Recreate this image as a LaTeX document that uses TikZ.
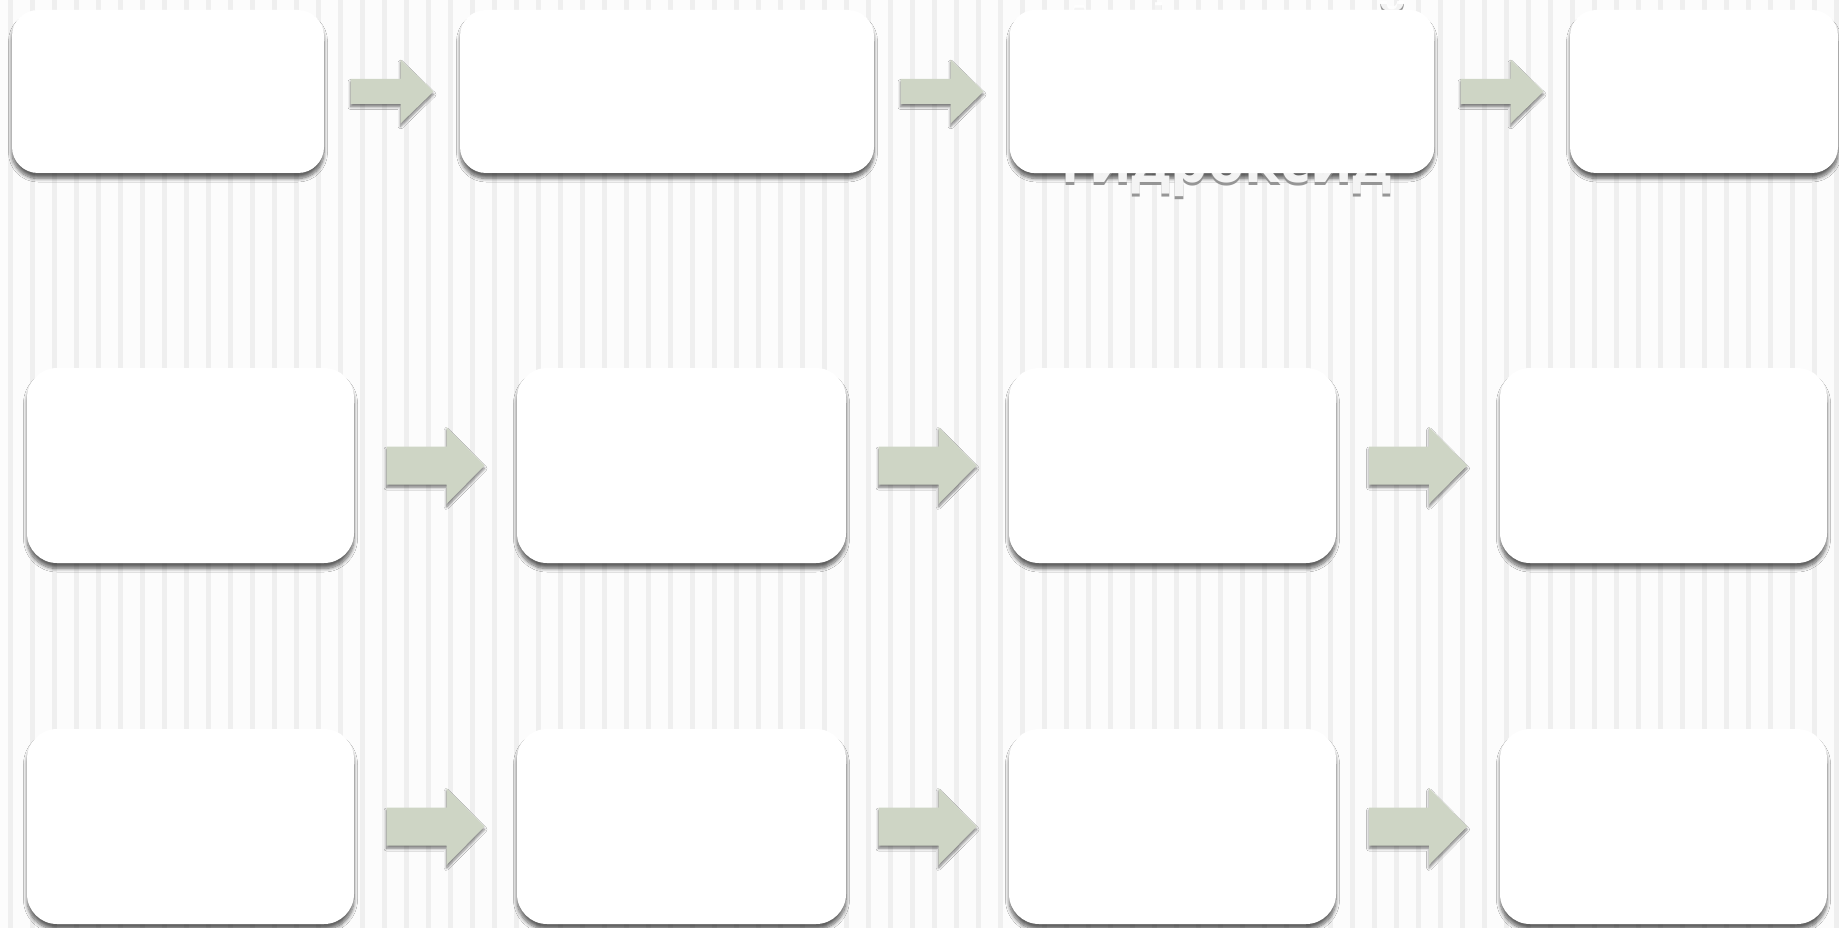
\documentclass[tikz,border=0pt]{standalone}
\usepackage{fontspec}
\newfontfamily\wordfont{Open Sans}
\usetikzlibrary{calc, shadows.blur}
\definecolor{paper}{RGB}{252,252,252}
\definecolor{stripe}{RGB}{239,239,239}
\definecolor{sage}{RGB}{206,213,197}
\tikzstyle{card}=[fill=white,inner sep=0pt,blur shadow={shadow xshift=0pt,shadow yshift=-5.5pt,shadow blur radius=3.5pt,shadow blur steps=8,shadow opacity=60}]
\tikzstyle{fat}=[fill=sage,blur shadow={shadow xshift=0pt,shadow yshift=-3pt,shadow blur radius=2.5pt,shadow blur steps=6,shadow opacity=50}]
\tikzstyle{word}=[anchor=base west,inner sep=0pt,font=\wordfont\bfseries\fontsize{59}{70}\selectfont]

\begin{document}
\begin{tikzpicture}[x=1pt,y=-1pt]
    \useasboundingbox (0,0) rectangle (1839,928);
    % striped backdrop
    \fill[paper] (0,0) rectangle (1839,928);
    \foreach \i in {0,...,83} \fill[stripe] (\i*22+8,0) rectangle ++(5,928);
    % cards
    \foreach \n/\x/\y/\w/\h/\r in {11/168/91.5/312/163/26, 12/667/91.5/414/163/26, 13/1222/91.5/424/163/26, 14/1704/91.5/268/163/26,
                                   21/190.5/465.5/327/195/30, 22/681.5/465.5/329/195/30, 23/1172.5/465.5/327/195/30, 24/1663.5/465.5/327/195/30,
                                   31/190.5/826.5/327/195/30, 32/681.5/826.5/329/195/30, 33/1172.5/826.5/327/195/30, 34/1663.5/826.5/327/195/30}
        \node[card,minimum width=\w pt,minimum height=\h pt,rounded corners=\r pt] (b\n) at (\x,\y) {};
    % block arrows between neighbouring cards
    \foreach \a/\b/\l/\k/\s/\w in {11/12/83/33/12.5/32, 12/13/83/33/12.5/32, 13/14/83/33/12.5/32,
                                   21/22/98/38/19/38.5, 22/23/98/38/19/38.5, 23/24/98/38/19/38.5,
                                   31/32/98/38/19/38.5, 32/33/98/38/19/38.5, 33/34/98/38/19/38.5}
        \fill[fat] ($(b\a.east)!.5!(b\b.west)$) ++(-\l/2,-\s) -- ++(\l-\k,0) -- ++(0,\s-\w) -- ++(\k,\w) -- ++(-\k,\w) -- ++(0,\s-\w) -- ++(-\l+\k,0) -- cycle;
    % white label, mostly hidden behind its card
    \foreach \c/\d in {black!45/3, white/0} {
        \node[word,text=\c,opacity=.9] (tA\d) at ($(b13.west)+(52,-44+\d)$) {\scalebox{.85}[1]{Амфотерный}};
        \node[word,text=\c,opacity=.9] (tB\d) at ($(b13.west)+(51,91.5+\d)$) {гидроксид};}
    \fill[white,rounded corners=26pt] (b13.south west) rectangle (b13.north east);
\end{tikzpicture}
\end{document}
